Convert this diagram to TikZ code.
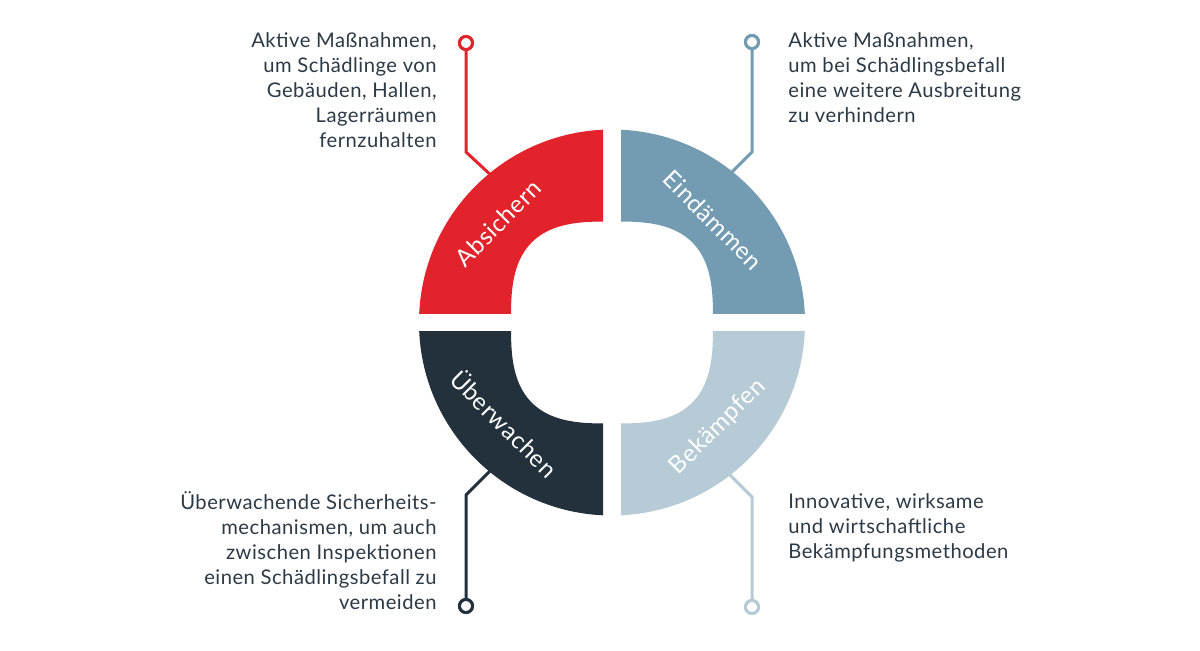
\documentclass[tikz,border=0pt]{standalone}
\usepackage{fontspec}
\setmainfont{Lato}[LetterSpace=2.5]
\definecolor{cred}{HTML}{E3232B}
\definecolor{cblue}{HTML}{739CB3}
\definecolor{cdark}{HTML}{22313C}
\definecolor{clight}{HTML}{B6CBD6}
\definecolor{ctext}{HTML}{2C3A45}
\begin{document}
\begin{tikzpicture}[x=0.5pt,y=-0.5pt,
  body/.style={font=\fontsize{10.1}{12.4}\selectfont, text=ctext, inner sep=0pt},
  seglabel/.style={font=\fontsize{12}{14}\selectfont, text=white, inner sep=0pt},
  dot/.style={circle, draw=#1, fill=white, line width=1.5pt, minimum size=6.5pt, inner sep=0pt},
  conn/.style={draw=#1, line width=1.5pt},
]
\useasboundingbox (0,0) rectangle (1200,650);
\fill[white] (0,0) rectangle (1200,650);

% connector end dots
\node[dot=cred] (d1) at (466,43) {};
\node[dot=cblue] (d2) at (752,42) {};
\node[dot=cdark] (d3) at (466,606) {};
\node[dot=clight] (d4) at (752,607) {};
\coordinate (b1) at (466,152); \coordinate (e1) at (494,178);
\coordinate (b2) at (752,152); \coordinate (e2) at (728,176);
\coordinate (b3) at (466,495); \coordinate (e3) at (492,469);
\coordinate (b4) at (752,497); \coordinate (e4) at (728,473);
\draw[conn=cred] (d1) -- (b1) -- (e1);
\draw[conn=cblue] (d2) -- (b2) -- (e2);
\draw[conn=cdark] (d3) -- (b3) -- (e3);
\draw[conn=clight] (d4) -- (b4) -- (e4);

% ring segments
\foreach \col/\xa/\ya/\xb/\yb in {cred/400/100/603/313.5, cblue/621/100/820/313.5, cdark/400/331.5/603/540, clight/621/331.5/820/540}{
  \begin{scope}
    \clip (\xa,\ya) rectangle (\xb,\yb);
    \fill[\col, even odd rule] (612,322.5) circle[radius=193]
      plot[domain=0.5:360.5, samples=145, variable=\t, smooth]
      ({612+101*sign(cos(\t))*abs(cos(\t))^(0.6667)},{322.5+101*sign(sin(\t))*abs(sin(\t))^(0.6667)}) -- cycle;
  \end{scope}
}

% redraw dots on top
\node[dot=cred] at (d1) {};
\node[dot=cblue] at (d2) {};
\node[dot=cdark] at (d3) {};
\node[dot=clight] at (d4) {};

% segment labels
\node[seglabel, rotate=45] (l1) at (498,223) {Absichern};
\node[seglabel, rotate=-45] (l2) at (713,220) {Eindämmen};
\node[seglabel, rotate=-45] (l3) at (505,423) {Überwachen};
\node[seglabel, rotate=45] (l4) at (718,427) {Bekämpfen};

% description texts
\node[body, align=right, anchor=base east] (t1) at (437,147) {Aktive Maßnahmen,\\um Schädlinge von\\Gebäuden, Hallen,\\Lagerräumen\\fernzuhalten};
\node[body, align=left, anchor=base west] (t2) at (788,122) {Aktive Maßnahmen,\\um bei Schädlingsbefall\\eine weitere Ausbreitung\\zu verhindern};
\node[body, align=right, anchor=base east] (t3) at (437,609) {Überwachende Sicherheits-\\mechanismen, um auch\\zwischen Inspektionen\\einen Schädlingsbefall zu\\vermeiden};
\node[body, align=left, anchor=base west] (t4) at (788,558) {Innovative, wirksame\\und wirtschaftliche\\Bekämpfungsmethoden};
\end{tikzpicture}
\end{document}
